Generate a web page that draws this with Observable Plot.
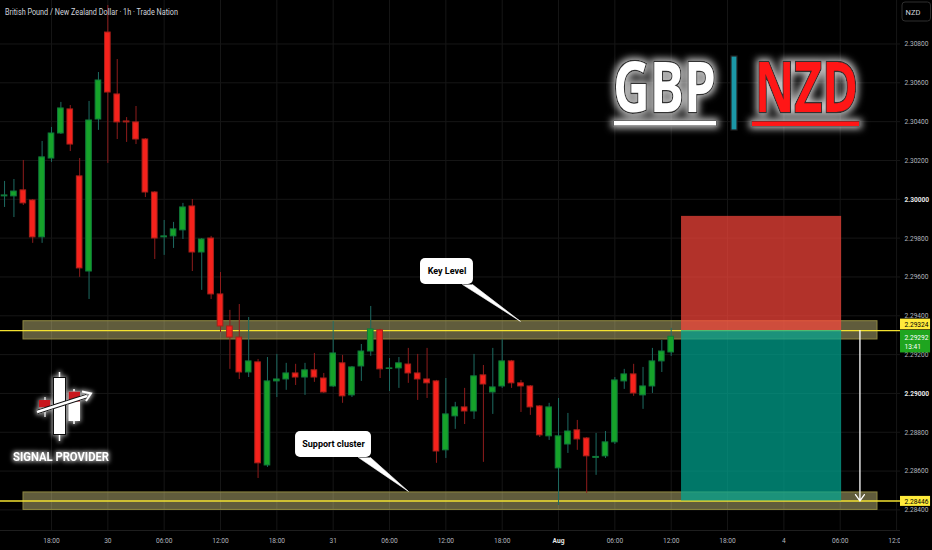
<!DOCTYPE html>
<html>
<head>
<meta charset="utf-8">
<script src="https://cdn.jsdelivr.net/npm/d3@7"></script>
<script src="https://cdn.jsdelivr.net/npm/@observablehq/plot@0.6"></script>
<style>
  html, body { margin: 0; padding: 0; background: #000; }
  #chart { position: relative; width: 932px; height: 550px; overflow: hidden; background: #000; }
  #chart svg { position: absolute; left: 0; top: 0; }
</style>
</head>
<body>
<div id="chart"></div>
<script>
// GBP/NZD 1h candles. Hour 0 = Jul 29 18:00
const firstHour = -5;
const opens = [
  2.30015, 2.30015, 2.30046, 2.29994, 2.29804,
  2.30210, 2.30339, 2.30463, 2.30118, 2.29628, 2.30411,
  2.30859, 2.30540, 2.30401, 2.30396, 2.30308, 2.30035,
  2.29804, 2.29809, 2.29840, 2.29963, 2.29726, 2.29798,
  2.29510, 2.29345, 2.29288, 2.29108, 2.29160, 2.28629,
  2.29062, 2.29072, 2.29103, 2.29082, 2.29119, 2.29077,
  2.29036, 2.29155, 2.28990, 2.29139, 2.29216, 2.29325,
  2.29126, 2.29129, 2.29149, 2.29103, 2.29072, 2.29062,
  2.28707, 2.28882, 2.28928, 2.28907, 2.29093, 2.29005,
  2.29036, 2.29165, 2.29052, 2.29036, 2.28933, 2.28779,
  2.28614, 2.28737, 2.28810, 2.28768, 2.28668, 2.28676,
  2.28748, 2.29062, 2.29098, 2.28990, 2.29036, 2.29165,
  2.29211
];
const highs = [
  2.30092, 2.30102, 2.30200, 2.29999, 2.30298,
  2.30370, 2.30499, 2.30483, 2.30210, 2.30504, 2.30653,
  2.30998, 2.30720, 2.30421, 2.30478, 2.30313, 2.30040,
  2.29891, 2.29881, 2.29979, 2.29999, 2.29798, 2.29809,
  2.29623, 2.29428, 2.29458, 2.29391, 2.29175, 2.29185,
  2.29201, 2.29155, 2.29150, 2.29155, 2.29206, 2.29103,
  2.29371, 2.29196, 2.29139, 2.29252, 2.29448, 2.29330,
  2.29180, 2.29185, 2.29232, 2.29201, 2.29232, 2.29067,
  2.29077, 2.28954, 2.29026, 2.29201, 2.29144, 2.29232,
  2.29278, 2.29170, 2.29067, 2.29041, 2.28938, 2.28949,
  2.28974, 2.28897, 2.28861, 2.28773, 2.28794, 2.28804,
  2.29082, 2.29124, 2.29150, 2.29134, 2.29232, 2.29273,
  2.29335
];
const lows = [
  2.29958, 2.29906, 2.29968, 2.29773, 2.29773,
  2.30190, 2.30334, 2.30246, 2.29598, 2.29484, 2.30355,
  2.30185, 2.30308, 2.30293, 2.30282, 2.30009, 2.29690,
  2.29711, 2.29747, 2.29793, 2.29628, 2.29531, 2.29484,
  2.29314, 2.29124, 2.29072, 2.29082, 2.28562, 2.28619,
  2.28979, 2.29016, 2.29041, 2.28990, 2.29057, 2.29000,
  2.29031, 2.28949, 2.28979, 2.29062, 2.29191, 2.29077,
  2.29010, 2.29026, 2.29052, 2.28964, 2.28974, 2.28640,
  2.28665, 2.28815, 2.28840, 2.28866, 2.28645, 2.28892,
  2.29026, 2.29026, 2.28902, 2.28887, 2.28773, 2.28758,
  2.28423, 2.28691, 2.28707, 2.28485, 2.28578, 2.28665,
  2.28737, 2.29021, 2.28985, 2.28918, 2.29000, 2.29108,
  2.29191
];
const closes = [
  2.30020, 2.30040, 2.29979, 2.29804, 2.30216,
  2.30339, 2.30468, 2.30282, 2.29644, 2.30406, 2.30612,
  2.30550, 2.30396, 2.30396, 2.30308, 2.30035, 2.29798,
  2.29809, 2.29845, 2.29958, 2.29726, 2.29793, 2.29510,
  2.29345, 2.29288, 2.29108, 2.29165, 2.28640, 2.29062,
  2.29072, 2.29103, 2.29082, 2.29119, 2.29082, 2.29005,
  2.29206, 2.28985, 2.29134, 2.29216, 2.29330, 2.29124,
  2.29129, 2.29155, 2.29103, 2.29072, 2.29052, 2.28701,
  2.28892, 2.28928, 2.28907, 2.29088, 2.29046, 2.29031,
  2.29165, 2.29052, 2.29036, 2.28928, 2.28784, 2.28928,
  2.28779, 2.28804, 2.28763, 2.28676, 2.28673, 2.28748,
  2.29067, 2.29098, 2.29000, 2.29036, 2.29165, 2.29216,
  2.29292
];

// axis ticks
const xTicks = [0, 6, 12, 18, 24, 30, 36, 42, 48, 54, 60, 66, 72, 78, 84, 90];
const xLabels = ["18:00", "30", "06:00", "12:00", "18:00", "31", "06:00", "12:00", "18:00", "Aug", "06:00", "12:00", "18:00", "4", "06:00", "12:00"];
const yTicks = [2.284, 2.286, 2.288, 2.292, 2.294, 2.296, 2.298, 2.302, 2.304, 2.306, 2.308];
const yTicksBold = [2.29, 2.30];

// levels and the short position
const keyLevel = 2.29324;
const supportLevel = 2.28446;
const keyZone = [2.29278, 2.29372];
const supportZone = [2.28400, 2.28490];
const zoneSpan = [-2.98, 87.97];
const stopLevel = 2.29912;
const positionSpan = [67.1, 84.15];
const arrowHour = 86.1;
const lastPrice = 2.29292;
const countdown = "13:41";

// callouts: box [hour1, hour2, price1, price2], pointer base hours, tip [hour, price]
const callouts = [
  {label: "Key Level", box: [39.3, 44.94, 2.29695, 2.29561], base: [43.77, 44.84], tip: [49.95, 2.29371]},
  {label: "Support cluster", box: [25.99, 34.08, 2.28804, 2.28670], base: [32.69, 33.97], tip: [38.02, 2.28495]}
];

const bars = opens.map((o, i) => ({t: firstHour + i, open: o, high: highs[i], low: lows[i], close: closes[i]}));
const up = d => d.close >= d.open;
const labelFor = new Map(xTicks.map((t, i) => [t, xLabels[i]]));

const xDomain = [-5.431, 90.42];
const yDomain = [2.28294, 2.31024];
const xMax = xDomain[1];
const scaleFont = 7.5;

const plot = Plot.plot({
  width: 932,
  height: 550,
  marginLeft: 0,
  marginRight: 32,
  marginTop: 0,
  marginBottom: 20,
  style: {background: "#000", fontFamily: "Roboto, sans-serif", overflow: "visible"},
  x: {domain: xDomain, axis: null},
  y: {domain: yDomain, axis: null},
  color: {type: "identity"},
  marks: [
    Plot.gridX(xTicks, {stroke: "#161616", strokeOpacity: 1}),
    Plot.gridY(yTicks.concat(yTicksBold), {stroke: "#161616", strokeOpacity: 1}),
    Plot.ruleX([xMax], {stroke: "#1e1e1e"}),
    Plot.ruleY([yDomain[0]], {stroke: "#1e1e1e"}),

    // zones
    Plot.rect([keyZone, supportZone], {
      x1: zoneSpan[0], x2: zoneSpan[1], y1: d => d[0], y2: d => d[1],
      fill: "rgb(240,230,150)", fillOpacity: 0.4, stroke: "#8f8842", strokeWidth: 1
    }),
    Plot.ruleY([keyLevel, supportLevel], {stroke: "#f2e130", strokeWidth: 1.3}),

    // short position tool
    Plot.rect([[keyLevel, stopLevel, "rgb(254,71,60)"], [supportLevel, keyLevel, "rgb(0,170,148)"]], {
      x1: positionSpan[0], x2: positionSpan[1], y1: d => d[0], y2: d => d[1],
      fill: d => d[2], fillOpacity: 0.7
    }),

    // candles
    Plot.ruleX(bars, {x: "t", y1: "low", y2: "high", stroke: d => up(d) ? "#1d6b62" : "#8e1c1c", strokeWidth: 1}),
    Plot.rect(bars, {
      x1: d => d.t - 0.3, x2: d => d.t + 0.3, y1: "open", y2: "close",
      fill: d => up(d) ? "#16a32a" : "#f5221c",
      stroke: d => up(d) ? "#0f7a3a" : "#a8201a", strokeWidth: 1
    }),

    // target arrow
    Plot.arrow([0], {x1: arrowHour, x2: arrowHour, y1: keyLevel, y2: supportLevel, stroke: "#fff", strokeWidth: 1.3, headLength: 9, headAngle: 70}),

    // callouts
    Plot.rect(callouts, {x1: d => d.box[0], x2: d => d.box[1], y1: d => d.box[2], y2: d => d.box[3], fill: "#fff", rx: 5}),
    ...callouts.map(c => Plot.line([[c.base[0], c.box[3]], [c.tip[0], c.tip[1]], [c.base[1], c.box[3]]], {
      x: d => d[0], y: d => d[1], fill: "#fff", stroke: "#fff", strokeWidth: 0.6
    })),
    Plot.text(callouts, {
      x: d => (d.box[0] + d.box[1]) / 2, y: d => (d.box[2] + d.box[3]) / 2, text: "label",
      fill: "#000", fontWeight: "bold", fontSize: 9, fontFamily: "Roboto, sans-serif"
    }),

    // axes
    Plot.axisX(xTicks.filter(t => labelFor.get(t) !== "Aug"), {
      anchor: "bottom", tickSize: 0, tickPadding: 7, label: null,
      tickFormat: d => labelFor.get(d), fill: "#b2b5be", fontSize: scaleFont
    }),
    Plot.axisX(xTicks.filter(t => labelFor.get(t) === "Aug"), {
      anchor: "bottom", tickSize: 0, tickPadding: 7, label: null,
      tickFormat: d => labelFor.get(d), fill: "#e6e6e6", fontSize: scaleFont, fontWeight: "bold"
    }),
    Plot.rect([0], {x1: xMax, x2: xMax + 4, y1: yDomain[0] - 0.002, y2: yDomain[1], fill: "#000"}),
    Plot.axisY(yTicks, {
      anchor: "right", tickSize: 0, tickPadding: 4, label: null,
      tickFormat: d3.format(".5f"), fill: "#b2b5be", fontSize: scaleFont
    }),
    Plot.axisY(yTicksBold, {
      anchor: "right", tickSize: 0, tickPadding: 4, label: null,
      tickFormat: d3.format(".5f"), fill: "#e6e6e6", fontSize: scaleFont, fontWeight: "bold"
    }),

    // price labels on the scale
    Plot.rect([keyLevel], {x1: xMax, x2: xMax + 3.2, y1: d => d, y2: d => d, insetTop: -11.4, insetBottom: 0.7, fill: "#ffeb3b"}),
    Plot.text([keyLevel], {x: xMax, y: d => d, dx: 4, dy: -5.8, text: d => d.toFixed(5), textAnchor: "start", fill: "#000", fontSize: scaleFont}),
    Plot.rect([lastPrice], {x1: xMax, x2: xMax + 3.2, y1: d => d, y2: d => d, insetTop: -6.3, insetBottom: -16.2, fill: "#1fa51f"}),
    Plot.text([lastPrice], {x: xMax, y: d => d, dx: 4, dy: 0.5, text: d => d.toFixed(5), textAnchor: "start", fill: "#fff", fontSize: scaleFont}),
    Plot.text([lastPrice], {x: xMax, y: d => d, dx: 4, dy: 10, text: () => countdown, textAnchor: "start", fill: "#fff", fontSize: scaleFont}),
    Plot.rect([supportLevel], {x1: xMax, x2: xMax + 3.2, y1: d => d, y2: d => d, insetTop: -4.6, insetBottom: -5.4, fill: "#ffeb3b"}),
    Plot.text([supportLevel], {x: xMax, y: d => d, dx: 4, dy: 0.5, text: d => d.toFixed(5), textAnchor: "start", fill: "#000", fontSize: scaleFont})
  ]
});

const chart = document.querySelector("#chart");
chart.append(plot);

// the screenshot's scale text is a little narrower than Roboto
const calloutText = new Set(callouts.map(c => c.label));
plot.querySelectorAll("text").forEach(t => {
  if (calloutText.has(t.textContent)) return;
  const len = t.getComputedTextLength();
  if (len > 0) {
    t.setAttribute("textLength", len * 0.88);
    t.setAttribute("lengthAdjust", "spacingAndGlyphs");
  }
});

// title, symbol box and the two logos
const deco = `
<svg width="932" height="550" xmlns="http://www.w3.org/2000/svg" style="pointer-events:none">
  <defs>
    <filter id="glow" x="-20%" y="-40%" width="140%" height="180%">
      <feMorphology in="SourceAlpha" operator="dilate" radius="2" result="d"/>
      <feGaussianBlur in="d" stdDeviation="3.5" result="b"/>
      <feFlood flood-color="#ffffff" flood-opacity="0.75"/>
      <feComposite in2="b" operator="in" result="g"/>
      <feMerge><feMergeNode in="g"/><feMergeNode in="SourceGraphic"/></feMerge>
    </filter>
    <filter id="glowS" x="-20%" y="-40%" width="140%" height="180%">
      <feMorphology in="SourceAlpha" operator="dilate" radius="1" result="d"/>
      <feGaussianBlur in="d" stdDeviation="2" result="b"/>
      <feFlood flood-color="#ffffff" flood-opacity="0.6"/>
      <feComposite in2="b" operator="in" result="g"/>
      <feMerge><feMergeNode in="g"/><feMergeNode in="SourceGraphic"/></feMerge>
    </filter>
  </defs>
  <text x="5" y="15" font-family="Roboto, sans-serif" font-size="9.5" fill="#d1d4dc" textLength="173" lengthAdjust="spacingAndGlyphs">British Pound / New Zealand Dollar · 1h · Trade Nation</text>
  <rect x="902" y="2" width="28.5" height="19" rx="3" fill="#000" stroke="#2e2e2e"/>
  <text x="913" y="14.5" text-anchor="middle" font-family="Roboto, sans-serif" font-size="7.5" fill="#d1d4dc">NZD</text>

  <g filter="url(#glow)" font-family="'Open Sans', sans-serif" font-weight="700" font-size="70" stroke="#333" stroke-width="3" paint-order="stroke">
    <text x="613" y="112" fill="#fff" textLength="103" lengthAdjust="spacingAndGlyphs">GBP</text>
    <text x="755" y="112" fill="#ff1212" textLength="103" lengthAdjust="spacingAndGlyphs">NZD</text>
    <rect x="614" y="121" width="102" height="4.5" fill="#fff" stroke-width="1.5"/>
    <rect x="752" y="121.5" width="107" height="4.5" fill="#ff1212" stroke-width="1.5"/>
  </g>
  <rect x="731" y="56" width="6" height="74" fill="#1b97a6" stroke="#222" stroke-width="1.2"/>

  <g filter="url(#glowS)">
    <line x1="59.5" y1="372" x2="59.5" y2="441" stroke="#fff" stroke-width="1.5"/>
    <rect x="53.5" y="377.5" width="12" height="57" fill="#fff" stroke="#111" stroke-width="1"/>
    <line x1="74" y1="389" x2="74" y2="424" stroke="#fff" stroke-width="1.5"/>
    <rect x="68.5" y="401" width="11.5" height="20" fill="#fff"/>
    <rect x="68.5" y="391.5" width="11.5" height="10" fill="#c8181e"/>
    <line x1="45" y1="397" x2="45" y2="417" stroke="#fff" stroke-width="1.2"/>
    <rect x="39" y="400" width="11.5" height="7.5" fill="#c8181e"/>
    <path d="M37 412 Q62 404 87 396" stroke="#111" stroke-width="4.5" fill="none"/>
    <path d="M37 412 Q62 404 87 396" stroke="#fff" stroke-width="2.5" fill="none"/>
    <path d="M82 391.5 L91 393.5 L86 401" fill="none" stroke="#fff" stroke-width="2"/>
  </g>
  <text x="13" y="461" font-family="Roboto, sans-serif" font-size="12" font-weight="700" fill="#fff" textLength="96" lengthAdjust="spacingAndGlyphs" filter="url(#glowS)">SIGNAL PROVIDER</text>
</svg>`;
chart.insertAdjacentHTML("beforeend", deco);
</script>
</body>
</html>
